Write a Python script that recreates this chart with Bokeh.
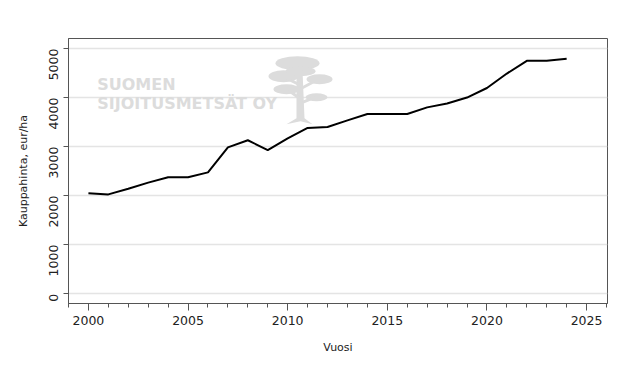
from bokeh.plotting import figure
from bokeh.models import SingleIntervalTicker, FixedTicker, Label, Range1d
from bokeh.embed import file_html
from bokeh.resources import INLINE
import math

years = list(range(2000, 2025))
prices = [2050, 2025, 2140, 2265, 2375, 2375, 2475, 2985, 3130, 2930,
          3170, 3380, 3400, 3535, 3665, 3665, 3665, 3800, 3880, 4000,
          4195, 4490, 4750, 4750, 4790]
y_ticks = [0, 1000, 2000, 3000, 4000, 5000]
x_label = "Vuosi"
y_label = "Kauppahinta, eur/ha"
watermark = ["SUOMEN", "SIJOITUSMETSÄT OY"]

FONT = "DejaVu Sans"

p = figure(width=630, height=360, output_backend="svg", toolbar_location=None,
           x_range=Range1d(1999, 2026.05), y_range=Range1d(-200, 5205),
           min_border_left=68, min_border_right=23, min_border_top=38,
           min_border_bottom=57)

p.background_fill_color = "white"
p.border_fill_color = "white"
p.outline_line_color = "#555555"
p.outline_line_width = 1

# grid
p.xgrid.grid_line_color = None
p.ygrid.grid_line_color = "#e4e4e4"
p.ygrid.grid_line_width = 1.5

# helpers: page pixel -> data (for decoration placement)
def sx(px):
    return 1999 + (px - 68.3) / 19.9

def sy(py):
    return (293.3 - py) / 0.049

# watermark text
wm_color = "#dcdcdc"
p.add_layout(Label(x=sx(97), y=sy(94), text=watermark[0], text_font=FONT,
                   text_font_style="bold", text_font_size="16px",
                   text_color=wm_color))
p.add_layout(Label(x=sx(97), y=sy(113), text=watermark[1], text_font=FONT,
                   text_font_style="bold", text_font_size="16px",
                   text_color=wm_color))

# tree logo (decoration)
blobs = [(297, 63, 44, 14), (283, 76, 30, 12), (319, 79, 26, 10),
         (286, 89, 26, 10), (316, 97, 22, 8), (300, 71, 30, 10)]
p.ellipse(x=[sx(b[0]) for b in blobs], y=[sy(b[1]) for b in blobs],
          width=[b[2] for b in blobs], height=[b[3] for b in blobs],
          width_units="screen", height_units="screen",
          fill_color=wm_color, line_color=None)
p.patch(x=[sx(v) for v in [296, 302, 304, 312, 300, 286, 296]],
        y=[sy(v) for v in [70, 70, 118, 124, 121, 124, 118]],
        fill_color=wm_color, line_color=None)
p.multi_line(xs=[[sx(298), sx(284)], [sx(301), sx(316)], [sx(299), sx(288)], [sx(302), sx(314)]],
             ys=[[sy(84), sy(77)], [sy(88), sy(80)], [sy(98), sy(90)], [sy(102), sy(97)]],
             line_color=wm_color, line_width=3)

# data line
p.line(years, prices, line_color="black", line_width=2)

# axes
xa = p.xaxis[0]
xa.ticker = SingleIntervalTicker(interval=5, num_minor_ticks=5)
xa.axis_line_color = "#555555"
xa.major_tick_line_color = "#555555"
xa.minor_tick_line_color = "#555555"
xa.major_tick_in = 0
xa.major_tick_out = 7
xa.minor_tick_in = 0
xa.minor_tick_out = 4
xa.major_label_text_font = FONT
xa.major_label_text_font_size = "12.5px"
xa.major_label_text_color = "#222222"
xa.major_label_standoff = 5
xa.axis_label = x_label
xa.axis_label_text_font = FONT
xa.axis_label_text_font_size = "11px"
xa.axis_label_text_font_style = "normal"
xa.axis_label_text_color = "#222222"
xa.axis_label_standoff = 13

ya = p.yaxis[0]
ya.ticker = FixedTicker(ticks=y_ticks)
ya.axis_line_color = "#555555"
ya.major_tick_line_color = "#555555"
ya.minor_tick_line_color = None
ya.major_tick_in = 0
ya.major_tick_out = 5
ya.major_label_orientation = math.pi / 2
ya.major_label_text_font = FONT
ya.major_label_text_font_size = "12.5px"
ya.major_label_text_color = "#222222"
ya.major_label_standoff = 10
ya.axis_label = y_label
ya.axis_label_text_font = FONT
ya.axis_label_text_font_size = "11px"
ya.axis_label_text_font_style = "normal"
ya.axis_label_text_color = "#222222"
ya.axis_label_standoff = 12

open("out.html", "w").write(file_html(p, INLINE))
